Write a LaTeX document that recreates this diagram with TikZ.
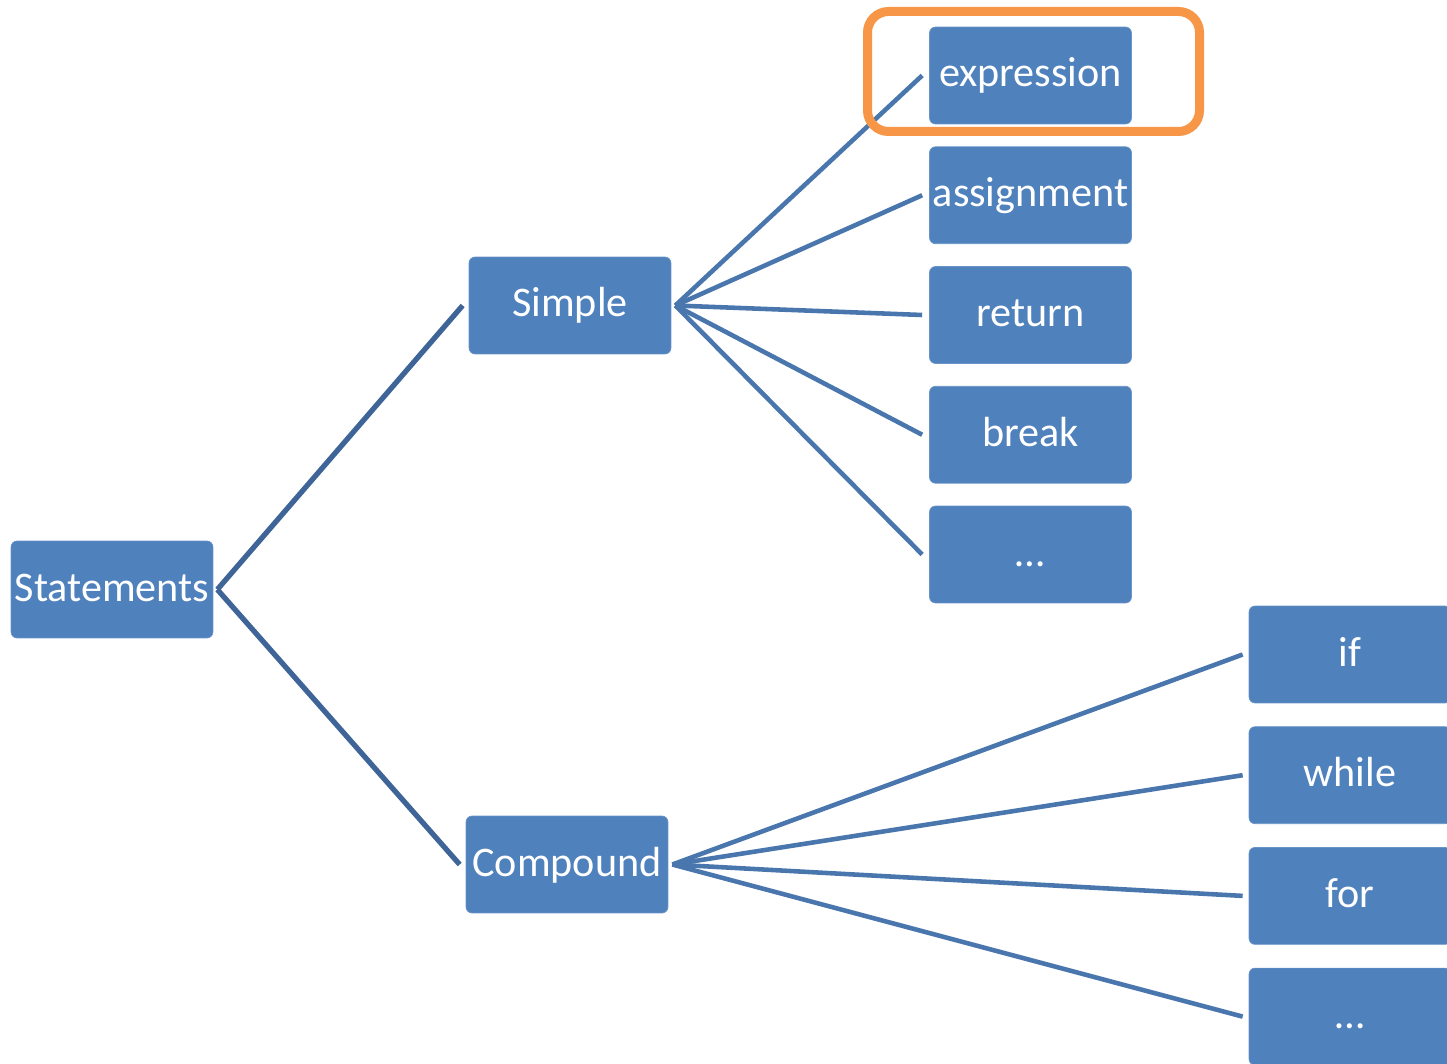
\documentclass[tikz,border=0pt]{standalone}
\usepackage{fontspec}
\setmainfont{Carlito}
\usetikzlibrary{positioning,calc}
\definecolor{boxblue}{HTML}{4F81BD}
\definecolor{linkblue}{HTML}{4A76AE}
\definecolor{rootblue}{HTML}{3F6598}
\definecolor{hiorange}{HTML}{F79646}

\begin{document}
\begin{tikzpicture}[x=0.02cm, y=-0.02cm,
    stmtbox/.style={draw=boxblue!85!white, fill=boxblue, text=white,
        rounded corners=0.12cm, minimum width=4.04cm, minimum height=1.94cm,
        inner sep=0pt, text height=0.7cm, text depth=0.24cm,
        font=\fontsize{24}{28}\selectfont},
    link/.style={draw=linkblue, line width=2.6pt},
    rootlink/.style={draw=rootblue, line width=3pt}]
    \useasboundingbox (0,0) rectangle (1447,1064);

    % root and the two kinds
    \node[stmtbox] (stmt) at (112,589.5) {Statements};
    \node[stmtbox] (simple) at (570,305.5) {Simple};
    \node[stmtbox] (compound) at (567,864.5) {Compound};

    \draw[rootlink] ([xshift=0.08cm]stmt.east) -- ([xshift=-0.12cm]simple.west);
    \draw[rootlink] ([xshift=0.08cm]stmt.east) -- ([xshift=-0.12cm]compound.west);

    % simple statements
    \foreach \lbl [count=\i] in {expression, assignment, return, break, …}{
        \node[stmtbox] (s\i) at (1030.5, {75.5+119.75*(\i-1)}) {\lbl};
        \draw[link] ([xshift=0.08cm]simple.east) -- ([xshift=-0.14cm]s\i.west);
    }

    % compound statements
    \foreach \lbl [count=\i] in {if, while, for, …}{
        \node[stmtbox] (c\i) at (1350, {654.5+120.7*(\i-1)}) {\lbl};
        \draw[link] ([xshift=0.08cm]compound.east) -- ([xshift=-0.12cm]c\i.west);
    }

    % highlight round expression
    \draw[hiorange, line width=0.18cm, rounded corners=0.42cm]
        (867.5,11.5) rectangle (1199.5,131.5);
\end{tikzpicture}
\end{document}
